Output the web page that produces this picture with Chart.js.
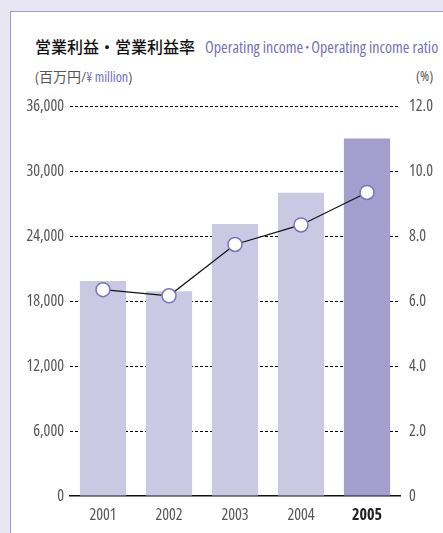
<!DOCTYPE html>
<html>
<head>
<meta charset="utf-8">
<script src="https://cdn.jsdelivr.net/npm/chart.js@4"></script>
<style>
  body { margin: 0; background: #e8e6f3; width: 443px; height: 533px; overflow: hidden; position: relative; }
  #panel { position: absolute; left: 10px; top: 11px; width: 450px; height: 540px; background: #fff; border: 1px solid #a09bd3; }
  #chart { position: absolute; left: 0; top: 0; }
  .t { position: absolute; white-space: nowrap; }
  #title { left: 35px; top: 34px; font: 500 16px "Noto Sans CJK JP", sans-serif; color: #111; }
  #etitle { left: 205px; top: 34px; font: condensed 16px "Open Sans", "Noto Sans CJK JP", sans-serif; color: #7570b9; }
  #unit { left: 35px; top: 66px; font: condensed 14px "Open Sans", "Noto Sans CJK JP", sans-serif; color: #555; }
  #unit span { color: #7570b9; }
  #pct { left: 416px; top: 66px; font: condensed 14px "Open Sans", sans-serif; color: #555; }
</style>
</head>
<body>
<div id="panel"></div>
<div class="t" id="title">営業利益・営業利益率</div>
<div class="t" id="etitle">Operating income･Operating income ratio</div>
<div class="t" id="unit">(百万円/<span>¥ million</span>)</div>
<div class="t" id="pct">(%)</div>
<canvas id="chart" width="443" height="533"></canvas>
<script>
"use strict";

// 年度
const years = ['2001', '2002', '2003', '2004', '2005'];
// 営業利益 (百万円)
const income = [19850, 18900, 25100, 28000, 33000];
// 営業利益率 (%)
const ratio = [6.35, 6.16, 7.74, 8.34, 9.34];

const barColors = ['#cbc8e4', '#cbc8e4', '#cbc8e4', '#cbc8e4', '#a39ecd'];
// condensed は font-stretch として canvas の font 文字列に入る
const fontFam = '"Open Sans", sans-serif';

const chartEl = document.getElementById('chart');

new Chart(chartEl, {
    data: {
        labels: years,
        datasets: [{
            type: 'line',
            data: ratio,
            yAxisID: 'y2',
            borderColor: '#111',
            borderWidth: 1.2,
            pointRadius: 7,
            pointBackgroundColor: '#fff',
            pointBorderColor: '#7a74c0',
            pointBorderWidth: 1.5,
            order: 0
        }, {
            type: 'bar',
            data: income,
            yAxisID: 'y',
            backgroundColor: barColors,
            categoryPercentage: 1,
            barPercentage: 0.7,
            order: 1
        }]
    },
    options: {
        responsive: false,
        animation: false,
        layout: { padding: { top: 106, left: 0, right: 0, bottom: 0 } },
        plugins: { legend: { display: false }, tooltip: { enabled: false } },
        scales: {
            x: {
                grid: { display: false, drawTicks: false },
                border: { display: true, color: '#111', width: 1.5 },
                ticks: {
                    padding: 10,
                    font: ctx => ({ family: fontFam, size: 16, weight: ctx.index === 4 ? 'bold condensed' : 'normal condensed' }),
                    color: ctx => ctx.index === 4 ? '#222' : '#555'
                },
                afterFit: scale => { scale.height = 37; }
            },
            y: {
                position: 'left',
                min: 0,
                max: 36000,
                ticks: {
                    stepSize: 6000,
                    padding: 6,
                    font: { family: fontFam, size: 16, weight: 'normal condensed' },
                    color: '#555',
                    callback: v => v.toLocaleString('en-US')
                },
                grid: {
                    drawTicks: false,
                    color: ctx => ctx.tick && ctx.tick.value === 0 ? 'rgba(0,0,0,0)' : '#000',
                    lineWidth: 1
                },
                border: { display: false, dash: [3, 2] },
                afterFit: scale => { scale.width = 70; }
            },
            y2: {
                position: 'right',
                min: 0,
                max: 12,
                ticks: {
                    stepSize: 2,
                    padding: 9,
                    font: { family: fontFam, size: 16, weight: 'normal condensed' },
                    color: '#555',
                    callback: v => v === 0 ? '0' : v.toFixed(1)
                },
                grid: { display: false, drawTicks: false },
                border: { display: false },
                afterFit: scale => { scale.width = 43; }
            }
        }
    }
});
</script>
</body>
</html>
